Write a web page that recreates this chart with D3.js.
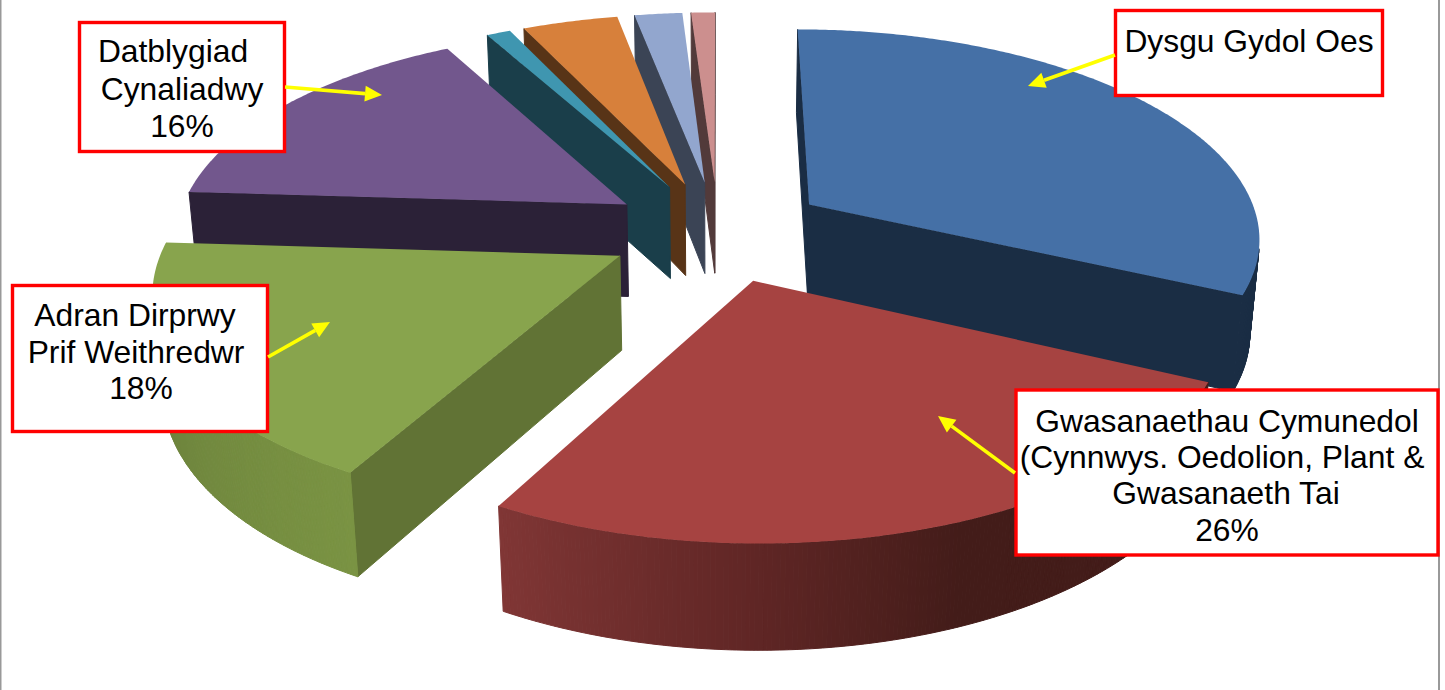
<!DOCTYPE html>
<html><head><meta charset="utf-8">
<script src="https://cdn.jsdelivr.net/npm/d3@7"></script>
<style>html,body{margin:0;padding:0;background:#fff;overflow:hidden}svg{display:block}text{font-family:"Liberation Sans",Arial,sans-serif;fill:#000}</style>
</head><body><svg id="c" width="1445" height="690"></svg>
<script>
// Data
const categories = ["Dysgu Gydol Oes","Gwasanaethau Cymunedol","Adran Dirprwy Prif Weithredwr","Datblygiad Cynaliadwy","Arall 1","Arall 2","Arall 3","Arall 4"];
const values = [32, 26, 18, 16, 1, 4, 2, 1];
// Styles
const topColors  = ["#4570a6","#a64341","#88a44d","#72578d","#3f96b0","#d7803b","#92a6ce","#cc8f8e"];
const cutColors  = ["#1a2d44","#431c19","#617335","#2b2137","#1a3e4a","#583417","#3b4455","#523a3a"];
const wallStops  = [[0,1],[0,0.46,0.7,1],[0,1],[0,1],[0,1],[0,1],[0,1],[0,1]];
const wallRamps  = [
 ["#1a2d44","#1a2d44"],
 ["#431c19","#431c19","#602625","#803635"],
 ["#7a9343","#657a38"],
 ["#2b2137","#2b2137"],
 ["#1a3e4a","#1a3e4a"],
 ["#583417","#583417"],
 ["#3b4455","#3b4455"],
 ["#523a3a","#523a3a"]];
const callouts = [
 {box:[1115.5,10.5,267,85], lines:[["Dysgu Gydol Oes",1249,52]], arrow:[1115,55,1028,86]},
 {box:[1016,390,422,165], lines:[["Gwasanaethau Cymunedol",1227,432],["(Cynnwys. Oedolion, Plant &",1222,468],["Gwasanaeth Tai",1226,504],["26%",1227,541]], arrow:[1015,473,938,416]},
 {box:[12.5,285.5,255,146], lines:[["Adran Dirprwy",135,326],["Prif Weithredwr",136,363],["18%",141,399]], arrow:[268,357,330,322]},
 {box:[79.5,22.5,205,129], lines:[["Datblygiad",173,62],["Cynaliadwy",182,100],["16%",182,137]], arrow:[285,87,382,95]}
];

const svg = d3.select("#c");
// frame
svg.append("line").attr("x1",0.5).attr("x2",0.5).attr("y1",0).attr("y2",690).attr("stroke","#999").attr("stroke-width",2);
svg.append("line").attr("x1",1439).attr("x2",1439).attr("y1",0).attr("y2",690).attr("stroke","#999").attr("stroke-width",2);

// 3-D camera
const cx=718, cy=231, R=452, H=107, EXPL=110, D=2735;
const tilt=Math.asin(0.46), st=Math.sin(tilt), ct=Math.cos(tilt);
function project(wx,wy,wz){
  const depth=wy*ct-wz*st, up=wy*st+wz*ct, s=D/(D+depth);
  return [cx+wx*s, cy-up*s];
}
const pie=d3.pie().sort(null).value(d=>d).startAngle(0).endAngle(2*Math.PI);
const arcs=pie(values).map((a,i)=>({...a,i,mid:(a.startAngle+a.endAngle)/2}));
const order=arcs.slice().sort((a,b)=>Math.cos(b.mid)-Math.cos(a.mid));
const ref=d3.polygonArea([[1,0],[0,0],[0,1],[1,1]]);
const vis=p=>d3.polygonArea(p)*ref>0;
const line=d3.line();

order.forEach(a=>{
  const ox=EXPL*Math.sin(a.mid), oy=EXPL*Math.cos(a.mid);
  const P=(t,r,z)=>project(ox+r*Math.sin(t),oy+r*Math.cos(t),z);
  const g=svg.append("g").attr("data-cat",categories[a.i]);
  const n=Math.max(6,Math.ceil((a.endAngle-a.startAngle)/0.008));
  const ts=d3.range(n+1).map(k=>a.startAngle+(a.endAngle-a.startAngle)*k/n);
  const span=a.endAngle-a.startAngle;
  const col=d3.scaleLinear().domain(wallStops[a.i].map(f=>a.startAngle+f*span)).range(wallRamps[a.i]);
  const draw=(pts,fill)=>{ if(vis(pts)) g.append("path").attr("d",line(pts)+"Z").attr("fill",fill).attr("stroke",fill).attr("stroke-width",1); };
  // cut faces
  draw([P(a.startAngle,R,0),P(a.startAngle,R,-H),P(0,0,-H),P(0,0,0)],cutColors[a.i]);
  draw([P(a.endAngle,R,-H),P(a.endAngle,R,0),P(0,0,0),P(0,0,-H)],cutColors[a.i]);
  // outer wall
  for(let k=0;k<n;k++){
    draw([P(ts[k],R,0),P(ts[k+1],R,0),P(ts[k+1],R,-H),P(ts[k],R,-H)],col((ts[k]+ts[k+1])/2));
  }
  // top
  const top=[P(0,0,0)].concat(ts.map(t=>P(t,R,0)));
  g.append("path").attr("d",line(top)+"Z").attr("fill",topColors[a.i]);
});

// callouts
const co=svg.append("g");
callouts.forEach(c=>{
  const [x,y,w,h]=c.box;
  const g=co.append("g");
  g.append("rect").attr("x",x).attr("y",y).attr("width",w).attr("height",h).attr("fill","#fff").attr("stroke","#f00").attr("stroke-width",3.4);
  c.lines.forEach(l=>g.append("text").attr("x",l[1]).attr("y",l[2]).attr("text-anchor","middle").attr("font-size",31.8).text(l[0]));
  const [x1,y1,x2,y2]=c.arrow, an=Math.atan2(y2-y1,x2-x1), L=17, W=8;
  const bx=x2-L*Math.cos(an), by=y2-L*Math.sin(an);
  g.append("line").attr("x1",x1).attr("y1",y1).attr("x2",bx).attr("y2",by).attr("stroke","#ff0").attr("stroke-width",3.6);
  g.append("polygon").attr("fill","#ff0").attr("points",[[x2,y2],[bx-W*Math.sin(an),by+W*Math.cos(an)],[bx+W*Math.sin(an),by-W*Math.cos(an)]].join(" "));
});
</script></body></html>
